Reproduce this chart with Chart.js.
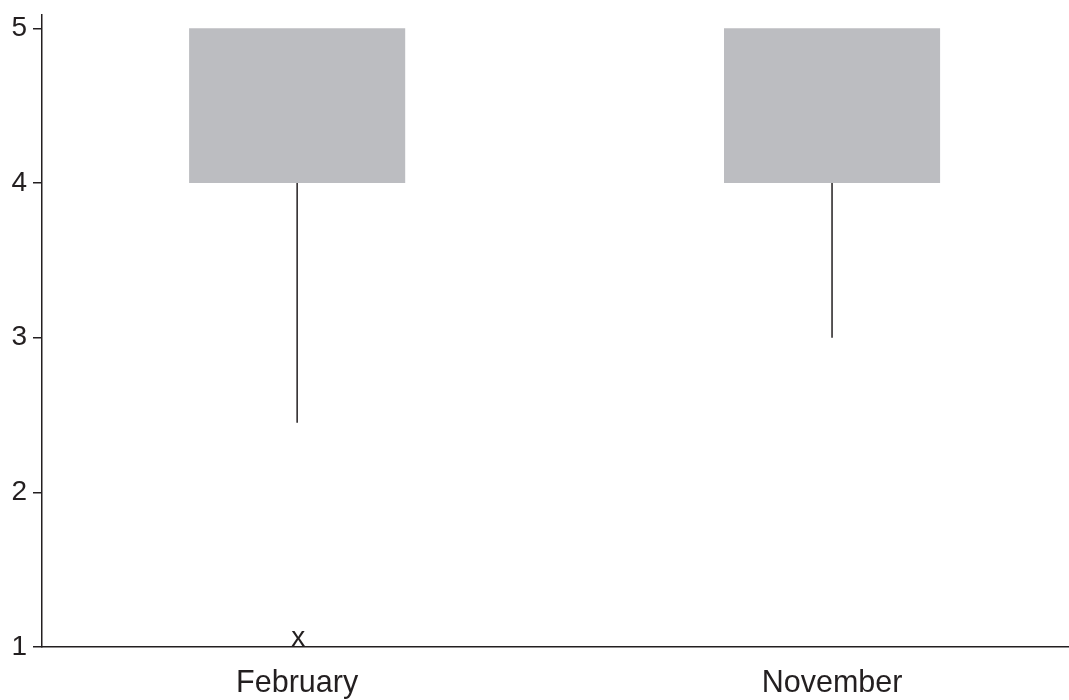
<!DOCTYPE html>
<html>
<head>
<meta charset="utf-8">
<script src="https://cdn.jsdelivr.net/npm/chart.js@4/dist/chart.umd.min.js"></script>
<style>
  html, body { margin: 0; padding: 0; background: #fff; }
  #wrap { width: 1069px; height: 700px; }
</style>
</head>
<body>
<div id="wrap"><canvas id="boxChart"></canvas></div>
<script>
// box plot values per month
const categories = ["February", "November"];
const positions = [1, 2];
const q1 = [4, 4];
const q3 = [5, 5];
const whiskerLow = [2.45, 3];
const outliers = [[1], []];

const ink = "#231f20";
const boxFill = "#bcbdc1";
const fontFamily = "'Liberation Sans', Arial, sans-serif";

const boxes = categories.map((c, i) => ({ x: positions[i], y: [q1[i], q3[i]] }));

const whiskerSets = categories.map((c, i) => ({
  type: "scatter",
  label: c + " whisker",
  data: [{ x: positions[i], y: q1[i] }, { x: positions[i], y: whiskerLow[i] }],
  showLine: true,
  borderColor: ink,
  borderWidth: 1.5,
  pointRadius: 0,
}));

const outlierPoints = [];
outliers.forEach((vals, i) => vals.forEach(v => outlierPoints.push({ x: positions[i], y: v })));

// draws the outliers as a text "x" sitting on the value
const outlierText = {
  id: "outlierText",
  afterDatasetsDraw(chart) {
    const idx = chart.data.datasets.findIndex(d => d.label === "outliers");
    const meta = chart.getDatasetMeta(idx);
    const ctx = chart.ctx;
    ctx.save();
    ctx.fillStyle = ink;
    ctx.font = "28px " + fontFamily;
    ctx.textAlign = "center";
    ctx.textBaseline = "alphabetic";
    meta.data.forEach(pt => ctx.fillText("x", pt.x + 1, pt.y - 1));
    ctx.restore();
  }
};

const ctx = document.getElementById("boxChart").getContext("2d");
new Chart(ctx, {
  type: "bar",
  data: {
    datasets: [
      {
        label: "boxes",
        data: boxes,
        backgroundColor: boxFill,
        borderWidth: 0,
        categoryPercentage: 1,
        barPercentage: 0.404,
      },
      ...whiskerSets,
      {
        type: "scatter",
        label: "outliers",
        data: outlierPoints,
        pointRadius: 0,
      },
    ],
  },
  options: {
    responsive: true,
    maintainAspectRatio: false,
    animation: false,
    layout: { padding: 0 },
    plugins: {
      legend: { display: false },
      tooltip: { enabled: false },
    },
    scales: {
      x: {
        type: "linear",
        offset: false,
        min: 0.523,
        max: 2.443,
        grid: { display: false, drawTicks: false },
        border: { display: true, color: ink, width: 1.5 },
        afterBuildTicks: (scale) => { scale.ticks = positions.map(v => ({ value: v })); },
        afterFit: (scale) => { scale.height = 53; },
        ticks: {
          padding: 18,
          color: ink,
          font: { family: fontFamily, size: 30.5 },
          callback: (v) => categories[positions.indexOf(v)] || "",
        },
      },
      y: {
        min: 1,
        max: 5.09,
        grid: { drawOnChartArea: false, drawTicks: true, tickLength: 9, color: ink, lineWidth: 1.5 },
        border: { display: true, color: ink, width: 1.5 },
        afterFit: (scale) => { scale.width = 42; },
        ticks: {
          stepSize: 1,
          includeBounds: false,
          padding: 6,
          color: ink,
          font: { family: fontFamily, size: 28, lineHeight: 0.6 },
        },
      },
    },
  },
  plugins: [outlierText],
});
</script>
</body>
</html>
